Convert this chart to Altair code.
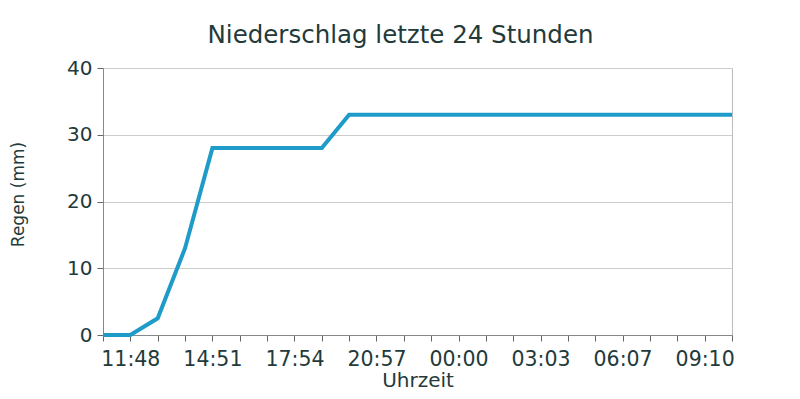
import json
import altair as alt
import pandas as pd

times = ["10:47", "11:48", "12:49", "13:50", "14:51", "15:52", "16:53", "17:54",
         "18:55", "19:56", "20:57", "21:58", "22:59", "00:00", "01:01", "02:02",
         "03:03", "04:04", "05:05", "06:07", "07:08", "08:09", "09:10", "10:11"]
rain = [0, 0, 2.5, 13, 28, 28, 28, 28, 28, 33, 33, 33, 33, 33, 33, 33,
        33, 33, 33, 33, 33, 33, 33, 33]
shown_labels = ["11:48", "14:51", "17:54", "20:57", "00:00", "03:03", "06:07", "09:10"]
y_ticks = [0, 10, 20, 30, 40]

df = pd.DataFrame({"Uhrzeit": times, "Regen": rain})

FONT = "DejaVu Sans"
TXT = "#233a3a"
label_expr = "indexof(" + json.dumps(shown_labels) + ", datum.label) >= 0 ? datum.label : ''"

chart = alt.Chart(df).mark_line(color="#1e9bc8", strokeWidth=4, strokeJoin="miter").encode(
    x=alt.X("Uhrzeit:O", sort=times,
            scale=alt.Scale(type="point", padding=0),
            axis=alt.Axis(title="Uhrzeit", labelExpr=label_expr, labelAngle=0,
                          labelFontSize=20.5, labelColor=TXT, labelFont=FONT,
                          labelPadding=8, tickSize=6, tickColor="#666",
                          domainColor="#888", titleFontSize=20, titleFont=FONT,
                          titleColor=TXT, titleFontWeight="normal", titlePadding=1,
                          labelOverlap=False, grid=False)),
    y=alt.Y("Regen:Q", scale=alt.Scale(domain=[0, 40], nice=False),
            axis=alt.Axis(title="Regen (mm)", values=y_ticks, labelFontSize=20,
                          labelColor=TXT, labelFont=FONT, labelPadding=5,
                          tickSize=6, tickColor="#666", domainColor="#888",
                          gridColor="#cccccc", titleFontSize=17, titleFont=FONT,
                          titleColor=TXT, titleFontWeight="normal",
                          titleX=-85, titleY=126, titleAngle=-90,
                          titleAlign="center", titleBaseline="middle")),
).properties(
    width=629,
    height=267,
    autosize=alt.AutoSizeParams(type="none"),
    padding={"left": 95, "top": 60, "right": 50, "bottom": 56},
    title=alt.TitleParams("Niederschlag letzte 24 Stunden", font=FONT, fontSize=24.5,
                          fontWeight="normal", color=TXT, anchor="middle",
                          dx=-17, offset=10),
).configure_view(stroke="#bbbbbb", strokeWidth=1)

chart.save("out.html", embed_options={"renderer": "svg", "actions": False})
